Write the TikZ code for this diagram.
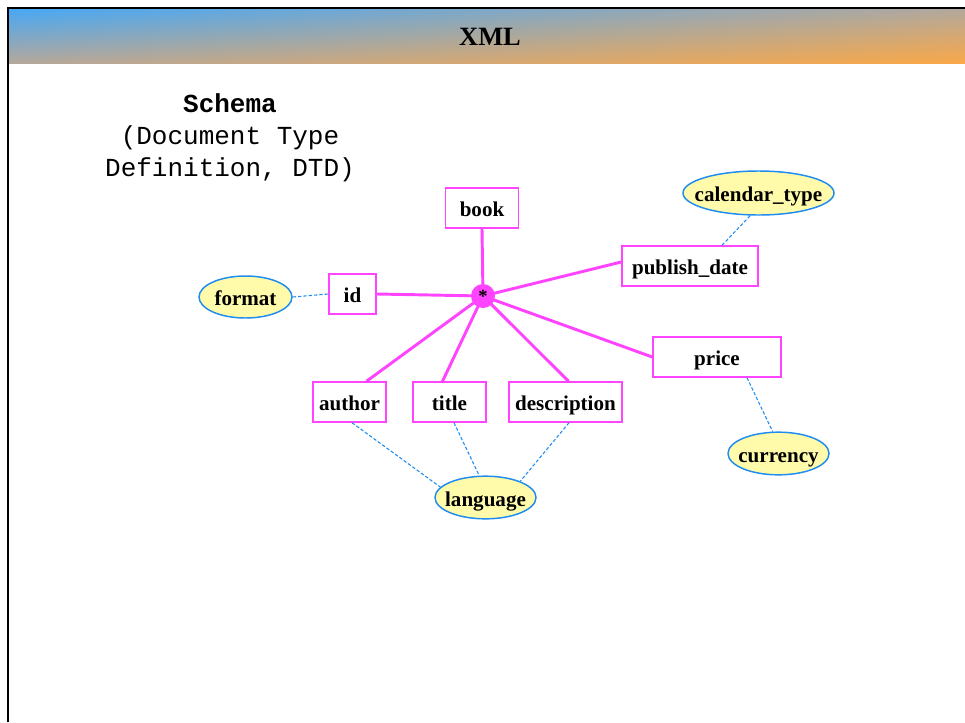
\documentclass[tikz,border=0pt]{standalone}
\usepackage{fontspec}
\setmainfont{Liberation Serif}
\newfontfamily\monofam{Liberation Mono}
\usetikzlibrary{shapes.geometric,calc,shadings}
\definecolor{mag}{HTML}{FF44FF}
\definecolor{eblue}{HTML}{1E8CF0}
\definecolor{efill}{HTML}{FFFBAA}
\definecolor{gblue}{HTML}{48A8F5}
\definecolor{gorange}{HTML}{F9A848}
\definecolor{gmid}{HTML}{B4A89C}
\newcommand{\zw}[1]{\makebox[0pt]{#1}}
\tikzset{
  elembox/.style={draw=mag, line width=1.1pt, fill=white, minimum height=30pt, inner sep=0pt, text height=14pt, text depth=1pt, font=\fontsize{15.8}{18}\selectfont\bfseries},
  attrell/.style={ellipse, draw=eblue, line width=1.1pt, fill=efill, inner sep=0pt, minimum height=32pt, text height=14pt, text depth=1pt, font=\fontsize{15.8}{18}\selectfont\bfseries},
  tree/.style={draw=mag, line width=2.2pt},
  attrlink/.style={draw=eblue, line width=0.8pt, dash pattern=on 2.5pt off 1.5pt},
}
\begin{document}
\begin{tikzpicture}[x=0.75pt,y=-0.75pt]
\useasboundingbox (0,0) rectangle (965,722);
\fill[white] (0,0) rectangle (965,722);
% header gradient
\shade[upper left=gblue, upper right=gmid, lower left=gmid, lower right=gorange] (9,9) rectangle (965,63);
\draw[black, line width=2pt] (8,722) -- (8,8) -- (965,8);
\node[font=\fontsize{19.8}{22}\selectfont\bfseries] (ttl) at (490,37) {XML};
% schema text
\node[align=center, font=\monofam\fontsize{19.5}{24}\selectfont] (schema) at (230,138) {\textbf{Schema}\\(Document Type\\Definition, DTD)};
% nodes
\node[elembox, minimum width=54.75pt] (book) at (482,208) {book};
\node[elembox, minimum width=35.25pt] (id) at (352.5,294) {id};
\node[elembox, minimum width=102pt] (pub) at (690,266) {publish\_date};
\node[elembox, minimum width=96pt] (price) at (717,357) {price};
\node[elembox, minimum width=54.75pt] (author) at (349.5,402) {author};
\node[elembox, minimum width=54.75pt] (title) at (449.5,402) {title};
\node[elembox, minimum width=84.75pt] (desc) at (565.5,402) {description};
\node[attrell, minimum width=69.75pt, minimum height=31.5pt] (format) at (245.5,297) {\zw{format}};
\node[attrell, minimum width=113.25pt, minimum height=33pt] (cal) at (758.5,193) {\zw{calendar\_type}};
\node[attrell, minimum width=75.75pt] (lang) at (485.5,497.5) {\zw{language}};
\node[attrell, minimum width=75.75pt] (cur) at (778.5,453.5) {\zw{currency}};
% hub connectors
\coordinate (hubc) at (483,296);
\draw[tree] (hubc) -- (book.south);
\draw[tree] (hubc) -- (id.east);
\draw[tree] (hubc) -- ($(pub.west)+(0,-4)$);
\draw[tree] (hubc) -- (price.west);
\draw[tree] (hubc) -- ($(author.north)+(17,0)$);
\draw[tree] (hubc) -- ($(title.north)+(-7,0)$);
\draw[tree] (hubc) -- ($(desc.north)+(3,0)$);
\node[circle, fill=mag, minimum size=18pt, inner sep=0pt, font=\fontsize{14}{14}\selectfont\bfseries] (hub) at (hubc) {*};
% attribute links
\draw[attrlink] (format.east) -- (id.west);
\draw[attrlink] ($(pub.north)+(32,0)$) -- (cal.250);
\draw[attrlink] ($(price.south)+(30,0)$) -- (cur.105);
\draw[attrlink] ($(author.south)+(2.5,0)$) -- (lang.167);
\draw[attrlink] ($(title.south)+(4.5,0)$) -- (lang.106);
\draw[attrlink] ($(desc.south)+(3.5,0)$) -- (lang.25);
\end{tikzpicture}
\end{document}
